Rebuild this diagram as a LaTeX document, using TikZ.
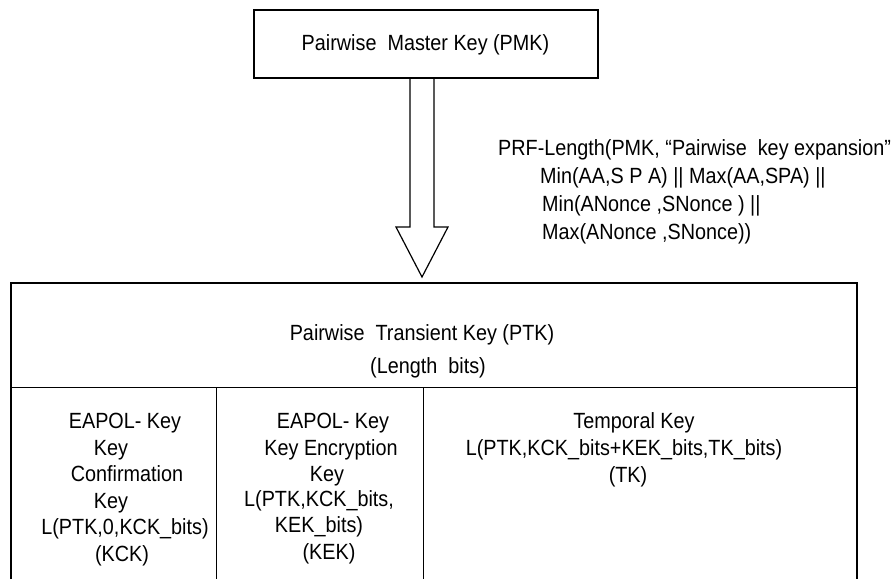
\documentclass[tikz,border=0pt]{standalone}
\usepackage{fontspec}
\setmainfont{Liberation Sans}[FakeStretch=0.9]
\begin{document}
\begin{tikzpicture}[x=1pt,y=-1pt,
  txt/.style={inner sep=0pt, anchor=base, font=\fontsize{22}{26}\selectfont},
  txtl/.style={txt, anchor=base west},
  outer/.style={line width=1.6pt},
  inner/.style={line width=1pt},
  arrowline/.style={line width=1.2pt, line join=miter}]
\useasboundingbox (0,0) rectangle (893,579);
% PMK box
\node[outer, draw, minimum width=344pt, minimum height=68pt, inner sep=0pt] (pmk) at (426,44) {};
\node[txt] (pmkt) at (425.5,50) {Pairwise~ Master Key (PMK)};
% big hollow arrow
\coordinate (ptop) at (422,283);
\draw[arrowline] (410,78) -- (410,227) -- (396,227) -- (ptop |- 0,277) -- (448,227) -- (434,227) -- (434,78);
% PRF text
\node[txtl] (prf1) at (498,155) {PRF-Length(PMK, “Pairwise~ key expansion”};
\node[txtl] (prf2) at (540,183) {Min(AA,S P A) || Max(AA,SPA) ||};
\node[txtl] (prf3) at (542,211) {Min(ANonce ,SNonce ) ||};
\node[txtl] (prf4) at (542,239) {Max(ANonce ,SNonce))};
% PTK table
\coordinate (bl) at (11,579);
\coordinate (br) at (857,579);
\draw[outer] (bl) -- (11,283) -- (857,283) -- (br);
\draw[inner] (11,387) -- (857,387);
\draw[inner] (216,387) -- (216,579);
\draw[inner] (423,387) -- (423,579);
\node[txt] (ptk1) at (422,340) {Pairwise~ Transient Key (PTK)};
\node[txt] (ptk2) at (428,373) {(Length~ bits)};
% column 1
\node[txt] (c1a) at (125,428) {EAPOL- Key};
\node[txt] (c1b) at (111,455) {Key};
\node[txt] (c1c) at (127,481) {Confirmation};
\node[txt] (c1d) at (111,508) {Key};
\node[txt] (c1e) at (125,534) {L(PTK,0,KCK\_bits)};
\node[txt] (c1f) at (122,561) {(KCK)};
% column 2
\node[txt] (c2a) at (333,428) {EAPOL- Key};
\node[txt] (c2b) at (331,455) {Key Encryption};
\node[txt] (c2c) at (327,481) {Key};
\node[txt] (c2d) at (319,506) {L(PTK,KCK\_bits,};
\node[txt] (c2e) at (319,532) {KEK\_bits)};
\node[txt] (c2f) at (329,559) {(KEK)};
% column 3
\node[txt] (c3a) at (634,428) {Temporal Key};
\node[txt] (c3b) at (624,455) {L(PTK,KCK\_bits+KEK\_bits,TK\_bits)};
\node[txt] (c3c) at (628,482) {(TK)};
\end{tikzpicture}
\end{document}
